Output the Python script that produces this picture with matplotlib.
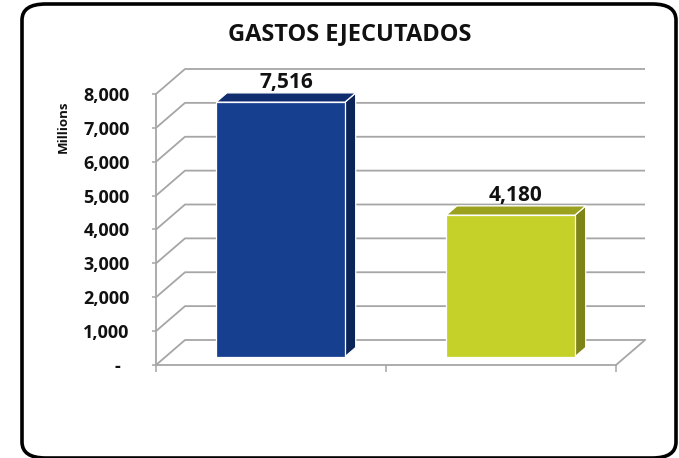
import matplotlib
matplotlib.use("Agg")
import matplotlib.pyplot as plt
from matplotlib.patches import Polygon, FancyBboxPatch
import numpy as np

plt.rcParams['font.family'] = ['Open Sans', 'DejaVu Sans']

# data
categories = ["Gastos 1", "Gastos 2"]
values = [7516, 4180]
value_labels = ["7,516", "4,180"]
tick_values = [0, 1000, 2000, 3000, 4000, 5000, 6000, 7000, 8000]
tick_labels = ["-  ", "1,000", "2,000", "3,000", "4,000", "5,000", "6,000", "7,000", "8,000"]

front_cols = ["#173f8f", "#c5d028"]
top_cols = ["#0f2d6f", "#9aa11d"]
side_cols = ["#0c2558", "#7e8418"]

W, H = 679, 458
fig = plt.figure(figsize=(W / 100, H / 100), dpi=100)

# rounded frame
frame = FancyBboxPatch((22 / W, 0 / H), 654 / W, 454 / H,
                       boxstyle="round,pad=0,rounding_size=0.035",
                       transform=fig.transFigure, fill=False,
                       edgecolor="black", linewidth=2.6, clip_on=False)
fig.patches.append(frame)

# plot area: front plane x 156..616 px -> 0..2, y 365..94 px -> 0..8000
px_x = 230.0
px_y = 33.875 / 1000
left_px, right_px, top_px, bot_px = 156, 660, 55, 385
ax = fig.add_axes([left_px / W, (H - bot_px) / H,
                   (right_px - left_px) / W, (bot_px - top_px) / H])
ax.set_xlim(0, (right_px - left_px) / px_x)
ax.set_ylim(-(bot_px - 365) / px_y, (365 - top_px) / px_y)
ax.patch.set_alpha(0)

DX = 29 / px_x
DY = 25 / px_y
n = len(categories)
grid_c = "#a6a6a6"

for v in tick_values:
    ax.plot([0, DX, n + DX], [v, v + DY, v + DY], color=grid_c, lw=1.3,
            zorder=1, clip_on=False, solid_capstyle="butt")
ax.plot([n, n + DX], [0, DY], color=grid_c, lw=1.3, zorder=1, clip_on=False)

# bars
f0, f1 = 0.33, 0.70
bw = 0.56
for i, v in enumerate(values):
    c = i + 0.5
    x0, x1 = c - bw / 2 + f0 * DX, c + bw / 2 + f0 * DX
    y0, y1 = f0 * DY, v + f0 * DY
    ddx, ddy = (f1 - f0) * DX, (f1 - f0) * DY
    front = Polygon([(x0, y0), (x1, y0), (x1, y1), (x0, y1)], closed=True,
                    facecolor=front_cols[i], edgecolor="white", lw=0.9, zorder=3)
    top = Polygon([(x0, y1), (x1, y1), (x1 + ddx, y1 + ddy), (x0 + ddx, y1 + ddy)],
                  closed=True, facecolor=top_cols[i], edgecolor="white", lw=0.9, zorder=3)
    side = Polygon([(x1, y0), (x1 + ddx, y0 + ddy), (x1 + ddx, y1 + ddy), (x1, y1)],
                   closed=True, facecolor=side_cols[i], edgecolor="white", lw=0.9, zorder=3)
    for p in (side, top, front):
        ax.add_patch(p)
    ax.annotate(value_labels[i], ((x0 + x1) / 2 + ddx / 2, y1 + ddy),
                xytext=(0, 0), textcoords="offset points",
                ha="center", va="bottom", fontsize=15, fontweight="bold",
                color="#111111", zorder=4)

# axes
for s in ("top", "right"):
    ax.spines[s].set_visible(False)
ax.spines["left"].set_bounds(0, 8000)
ax.spines["left"].set_color(grid_c)
ax.spines["left"].set_linewidth(1.3)
ax.spines["bottom"].set_position(("data", 0))
ax.spines["bottom"].set_bounds(0, n)
ax.spines["bottom"].set_color(grid_c)
ax.spines["bottom"].set_linewidth(1.3)
ax.set_yticks(tick_values)
ax.set_yticklabels(tick_labels, fontsize=13, fontweight="bold", color="#111111")
ax.tick_params(axis="y", length=3, width=1.1, color=grid_c, pad=16)
ax.set_xticks(np.arange(n + 1))
ax.set_xticklabels([])
ax.tick_params(axis="x", length=5, width=1.1, color=grid_c, direction="out")

fig.text(63 / W, 1 - 127 / H, "Millions", rotation=90, ha="center", va="center",
         fontsize=9.5, fontweight="bold", color="#111111")
fig.text(350 / W, 1 - 34 / H, "GASTOS EJECUTADOS", ha="center", va="center",
         fontsize=17, fontweight="bold", color="#111111")

fig.savefig("out.png", dpi=100)
